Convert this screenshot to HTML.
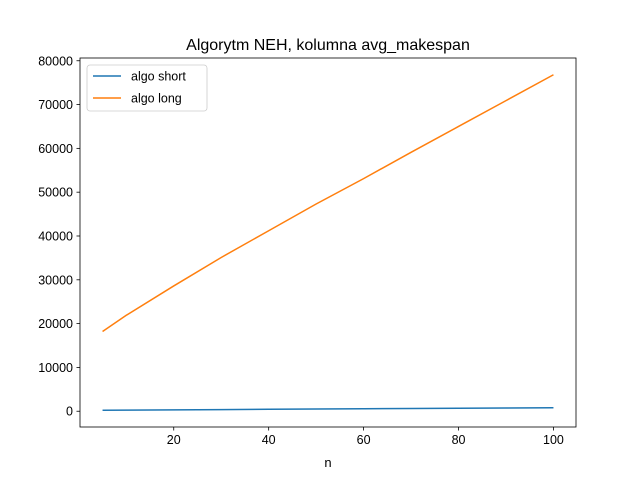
<!DOCTYPE html>
<html><head><meta charset="utf-8"><style>body{margin:0;background:#fff}svg{display:block;font-family:"Liberation Sans","DejaVu Sans",sans-serif}</style></head>
<body>
<svg id="c" width="640" height="480"></svg>
<script>
const nValues=[5,10,20,30,40,50,60,70,80,90,100];
const shortValues=[230,260,320,380,440,500,560,620,680,740,790];
const longValues=[18200,21900,28600,35100,41200,47300,53100,59100,65000,70900,76800];
const xTicks=[20,40,60,80,100];
const yTicks=[0,10000,20000,30000,40000,50000,60000,70000,80000];
const L=80,R=576,T=58,B=427;
const xmin=0.25,xmax=104.75,ymin=-3598,ymax=80628;
const X=v=>L+(v-xmin)/(xmax-xmin)*(R-L);
const Y=v=>B-(v-ymin)/(ymax-ymin)*(B-T);
const s=document.getElementById('c');const NS='http://www.w3.org/2000/svg';
function mk(t,a,p){const e=document.createElementNS(NS,t);for(const k in a)e.setAttribute(k,a[k]);(p||s).appendChild(e);return e;}
let t=mk('text',{x:328,y:50,'text-anchor':'middle','font-size':16});t.textContent='Algorytm NEH, kolumna avg_makespan';


xTicks.forEach(v=>{const g=mk('g',{});


mk('line',{x1:X(v),x2:X(v),y1:B,y2:B+3.5,stroke:'#000','stroke-width':0.8},g);
const tx=mk('text',{x:X(v),y:B+17,'text-anchor':'middle','font-size':12.5},g);tx.textContent=v;});
yTicks.forEach(v=>{const g=mk('g',{});


mk('line',{x1:L-3.5,x2:L,y1:Y(v),y2:Y(v),stroke:'#000','stroke-width':0.8},g);
const tx=mk('text',{x:L-7,y:Y(v)+4.5,'text-anchor':'end','font-size':12.5},g);tx.textContent=v;});
t=mk('text',{x:328,y:467,'text-anchor':'middle','font-size':13});t.textContent='n';


function line(vals,col,name){const p=mk('polyline',{points:nValues.map((n,i)=>X(n)+','+Y(vals[i])).join(' '),fill:'none',stroke:col,'stroke-width':1.5});

}
line(shortValues,'#1f77b4','line-algo-short');
line(longValues,'#ff7f0e','line-algo-long');
const fr=mk('rect',{x:L,y:T,width:R-L,height:B-T,fill:'none',stroke:'#000','stroke-width':0.8});


const lg=mk('g',{});


mk('rect',{x:87,y:65,width:120,height:46,rx:3,fill:'#fff',stroke:'#ccc','stroke-width':0.8},lg);
[['algo short','#1f77b4',76],['algo long','#ff7f0e',98]].forEach(([n,c,y])=>{const e=mk('g',{},lg);


mk('line',{x1:93,x2:121,y1:y,y2:y,stroke:c,'stroke-width':1.5},e);
const tx=mk('text',{x:131,y:y+4.5,'font-size':12.5},e);tx.textContent=n;});
</script>
</body></html>
